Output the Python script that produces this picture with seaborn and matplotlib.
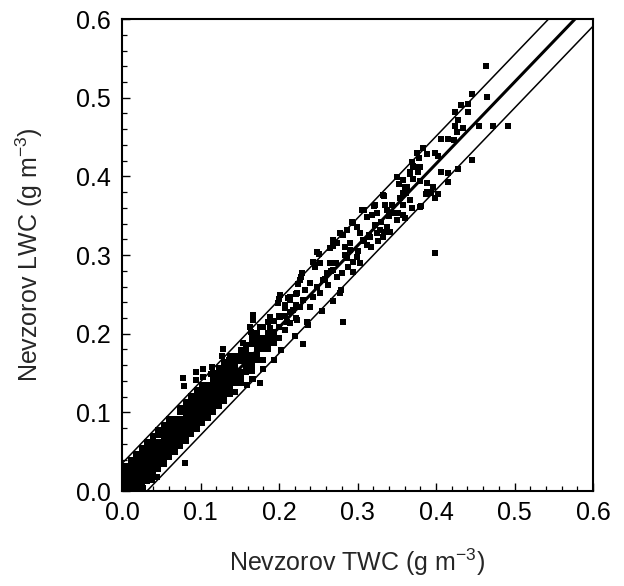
import matplotlib
matplotlib.use("Agg")
import matplotlib.pyplot as plt
import seaborn as sns
import pandas as pd
from matplotlib.ticker import MultipleLocator

# ---- data ----
# dense core of the cloud: one TWC column, several LWC values per column
dense_twc = [0.004, 0.011, 0.018, 0.025, 0.032, 0.039, 0.046, 0.053, 0.060, 0.067,
             0.074, 0.081, 0.088, 0.095, 0.102, 0.109, 0.116, 0.123, 0.130, 0.137,
             0.144, 0.151, 0.158, 0.165, 0.172, 0.179, 0.186, 0.193, 0.200, 0.207,
             0.214, 0.221]
dense_lwc = [
    [0.001, 0.005, 0.012, 0.019, 0.026, 0.032],
    [0.002, 0.006, 0.012, 0.019, 0.026, 0.033, 0.039],
    [0.002, 0.007, 0.013, 0.020, 0.027, 0.034, 0.041, 0.047],
    [0.004, 0.009, 0.014, 0.021, 0.027, 0.034, 0.041, 0.049, 0.055],
    [0.013, 0.020, 0.027, 0.034, 0.041, 0.048, 0.055, 0.062],
    [0.021, 0.028, 0.035, 0.042, 0.049, 0.056, 0.063, 0.070],
    [0.028, 0.035, 0.042, 0.049, 0.056, 0.063, 0.071, 0.077],
    [0.035, 0.042, 0.049, 0.056, 0.063, 0.070, 0.077, 0.084],
    [0.043, 0.049, 0.056, 0.063, 0.070, 0.077, 0.085, 0.091],
    [0.050, 0.057, 0.064, 0.071, 0.078, 0.085, 0.092],
    [0.057, 0.064, 0.071, 0.078, 0.085, 0.092, 0.100, 0.106],
    [0.064, 0.071, 0.078, 0.085, 0.092, 0.099, 0.106, 0.113],
    [0.072, 0.079, 0.086, 0.093, 0.100, 0.107, 0.115, 0.121],
    [0.079, 0.086, 0.093, 0.100, 0.107, 0.114, 0.121, 0.128],
    [0.086, 0.093, 0.100, 0.107, 0.114, 0.121, 0.129, 0.135],
    [0.093, 0.100, 0.107, 0.114, 0.121, 0.128, 0.135],
    [0.101, 0.108, 0.115, 0.122, 0.129, 0.136, 0.143, 0.150],
    [0.108, 0.115, 0.122, 0.129, 0.136, 0.143, 0.150, 0.157],
    [0.115, 0.122, 0.129, 0.136, 0.143, 0.150, 0.158, 0.164],
    [0.123, 0.130, 0.137, 0.144, 0.151, 0.158, 0.165, 0.172],
    [0.137, 0.144, 0.151, 0.158, 0.165, 0.172],
    [0.137, 0.144, 0.151, 0.165, 0.172, 0.179],
    [0.151, 0.158, 0.165, 0.172, 0.179, 0.186],
    [0.152, 0.159, 0.166, 0.173, 0.187, 0.194],
    [0.166, 0.173, 0.180, 0.187, 0.194, 0.201],
    [0.166, 0.180, 0.187, 0.194, 0.208],
    [0.180, 0.187, 0.194, 0.201, 0.215],
    [0.188, 0.195, 0.202, 0.216],
    [0.195, 0.209, 0.223],
    [0.205, 0.222, 0.236],
    [0.214, 0.228, 0.243],
    [0.220, 0.236, 0.251],
]

# scattered points (TWC, LWC)
sparse_points = [
    (.464, .540), (.446, .505), (.465, .501), (.424, .482), (.432, .491), (.441, .492),
    (.441, .482), (.428, .472), (.424, .464), (.434, .461), (.427, .456), (.455, .464),
    (.406, .447), (.415, .447), (.423, .446), (.398, .430), (.403, .426), (.389, .428),
    (.378, .423), (.371, .413), (.380, .412), (.367, .403), (.371, .397), (.380, .394),
    (.353, .390), (.361, .386), (.406, .405), (.415, .404), (.415, .393), (.394, .379),
    (.403, .377), (.398, .372), (.362, .379), (.367, .370), (.358, .364), (.335, .364),
    (.473, .464), (.492, .464), (.446, .421), (.428, .409),
    (.398, .303), (.282, .215), (.231, .187), (.078, .144), (.094, .151), (.103, .155),
    (.115, .158), (.129, .180), (.167, .224), (.080, .036),
    (.334, .375), (.321, .362), (.308, .357), (.294, .341), (.281, .325), (.269, .311),
    (.251, .301), (.246, .287), (.228, .272), (.224, .263), (.211, .245), (.200, .244),
    (.189, .217), (.167, .217), (.164, .202), (.154, .188), (.136, .167), (.127, .172),
    (.113, .149), (.103, .145), (.094, .141), (.079, .133),
    (.396, .386), (.387, .377), (.381, .362), (.361, .347), (.352, .353), (.334, .329),
    (.326, .318), (.317, .310), (.303, .290), (.294, .278), (.279, .255), (.269, .241),
    (.255, .229), (.237, .211), (.220, .197), (.203, .179), (.194, .167), (.180, .155),
    (.167, .142),
    (.383, .436), (.376, .430), (.369, .418), (.373, .412), (.367, .405), (.377, .405),
    (.350, .399), (.358, .395), (.363, .386), (.358, .379), (.354, .372), (.389, .391),
    (.389, .380), (.333, .376), (.322, .364), (.338, .357), (.344, .364), (.306, .357),
    (.312, .348), (.319, .351), (.325, .353), (.358, .351), (.361, .347), (.369, .360),
    (.380, .361), (.345, .353), (.350, .344), (.293, .342), (.299, .336), (.287, .332),
    (.303, .328), (.338, .336), (.329, .332), (.325, .328), (.333, .323), (.341, .329),
    (.316, .323), (.307, .319), (.312, .313), (.278, .328), (.269, .319), (.265, .309),
    (.274, .315), (.284, .310), (.290, .306), (.299, .297), (.287, .296), (.294, .291),
    (.288, .285), (.248, .304), (.243, .291), (.246, .285), (.252, .290), (.265, .290),
    (.269, .281), (.261, .277), (.274, .272), (.280, .277), (.278, .252), (.229, .277),
    (.227, .268), (.240, .264), (.233, .255), (.248, .259), (.256, .268), (.223, .252),
    (.214, .247), (.231, .243), (.243, .247), (.252, .252), (.201, .249), (.199, .239),
    (.208, .233), (.218, .230), (.227, .234), (.240, .234), (.189, .221), (.201, .221),
    (.210, .215), (.223, .217), (.236, .215), (.163, .208), (.176, .208), (.189, .207),
    (.027, .004), (.038, .014), (.045, .018), (.144, .126), (.159, .135), (.176, .137),
    (.165, .143),
    (.300, .305), (.308, .318), (.315, .325), (.322, .338), (.330, .342), (.340, .350),
    (.266, .280), (.272, .290), (.258, .270), (.262, .262), (.284, .300), (.290, .315),
]

# fitted line and the two bounding lines
fit_slope = 1.04
line_intercepts = [-0.033, 0.0, 0.035]
line_widths = [1.1, 2.2, 1.1]

x_ticks = [0.0, 0.1, 0.2, 0.3, 0.4, 0.5, 0.6]
y_ticks = [0.0, 0.1, 0.2, 0.3, 0.4, 0.5, 0.6]

# ---- build table ----
rows = []
for xv, ys in zip(dense_twc, dense_lwc):
    for yv in ys:
        rows.append((xv, yv))
rows.extend(sparse_points)
df = pd.DataFrame(rows, columns=["TWC", "LWC"])

sns.set_style("ticks")
plt.rcParams["font.family"] = ["Liberation Sans", "DejaVu Sans"]
plt.rcParams["mathtext.fontset"] = "custom"
plt.rcParams["mathtext.rm"] = "Liberation Sans"

fig = plt.figure(figsize=(6.24, 5.86), dpi=100)
ax = fig.add_axes([0.1955, 0.162, 0.755, 0.8055])

sns.scatterplot(data=df, x="TWC", y="LWC", ax=ax, marker="s", s=24,
                color="black", linewidth=0, legend=False, zorder=3)

for b, lw in zip(line_intercepts, line_widths):
    ax.axline((0.0, b), slope=fit_slope, color="black", linewidth=lw, zorder=4)

ax.set_xlim(0, 0.6)
ax.set_ylim(0, 0.6)
ax.set_xticks(x_ticks)
ax.set_yticks(y_ticks)
ax.set_xticklabels([f"{t:.1f}" for t in x_ticks])
ax.set_yticklabels([f"{t:.1f}" for t in y_ticks])
ax.xaxis.set_minor_locator(MultipleLocator(0.02))
ax.yaxis.set_minor_locator(MultipleLocator(0.02))
ax.tick_params(which="major", direction="in", length=6, width=1.0,
               labelsize=18, colors="black")
ax.tick_params(axis="x", which="major", pad=7)
ax.tick_params(axis="y", which="major", pad=8)
ax.tick_params(which="minor", direction="in", length=3.5, width=0.9, colors="black")
ax.tick_params(top=False, right=False, which="both")
for sp in ax.spines.values():
    sp.set_visible(True)
    sp.set_linewidth(1.5)
    sp.set_color("black")

ax.set_xlabel(r"Nevzorov TWC (g m$^{\mathregular{-3}}$)", fontsize=18, labelpad=16)
ax.set_ylabel(r"Nevzorov LWC (g m$^{\mathregular{-3}}$)", fontsize=18, labelpad=22)

fig.savefig("out.png", dpi=100, facecolor="white")
